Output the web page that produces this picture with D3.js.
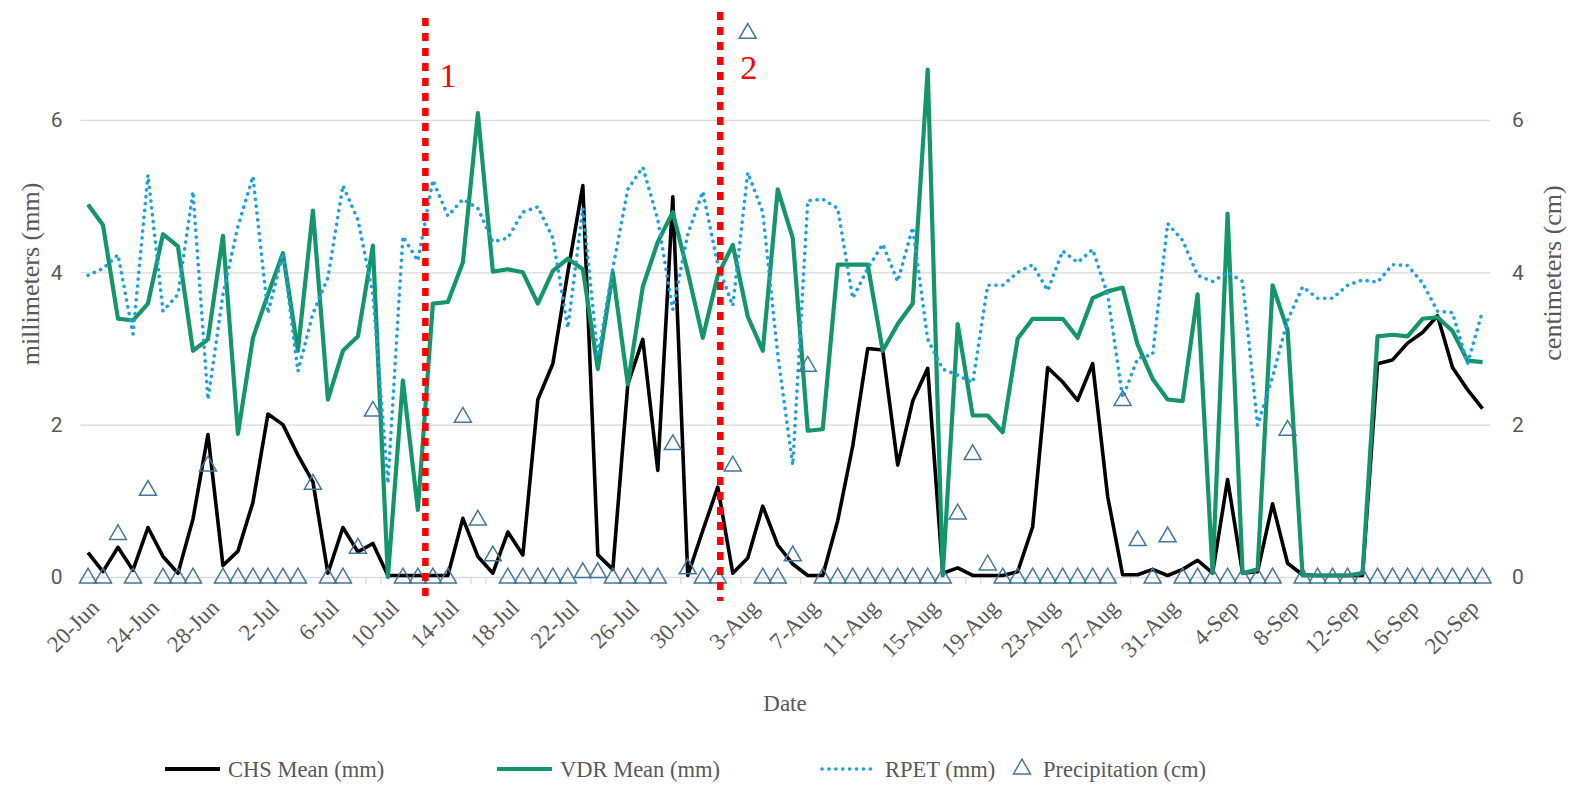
<!DOCTYPE html>
<html>
<head>
<meta charset="utf-8">
<script src="https://cdn.jsdelivr.net/npm/d3@7/dist/d3.min.js"></script>
<style>
  body { margin: 0; background: #fff; }
  svg { display: block; }
</style>
</head>
<body>
<div class="box"></div>
<script>
// daily values, 20-Jun .. 21-Sep
const chsMean = [
  0.32, 0.07, 0.39, 0.09, 0.65, 0.27, 0.05, 0.76, 1.87, 0.15,
  0.34, 0.98, 2.14, 2.00, 1.60, 1.25, 0.05, 0.65, 0.33, 0.44,
  0.02, 0.02, 0.02, 0.02, 0.02, 0.77, 0.27, 0.05, 0.59, 0.29,
  2.33, 2.80, 4.00, 5.14, 0.29, 0.10, 2.53, 3.12, 1.40, 4.99,
  0.02, 0.61, 1.18, 0.05, 0.25, 0.93, 0.42, 0.17, 0.02, 0.02,
  0.74, 1.72, 3.00, 2.98, 1.47, 2.31, 2.74, 0.05, 0.12, 0.02,
  0.02, 0.02, 0.07, 0.66, 2.75, 2.56, 2.32, 2.80, 1.06, 0.03,
  0.03, 0.10, 0.02, 0.10, 0.22, 0.05, 1.28, 0.05, 0.07, 0.96,
  0.18, 0.03, 0.02, 0.02, 0.02, 0.02, 2.80, 2.85, 3.07, 3.21,
  3.43, 2.75, 2.46, 2.21
]
const vdrMean = [
  4.89, 4.62, 3.39, 3.37, 3.59, 4.50, 4.34, 2.97, 3.12, 4.48,
  1.88, 3.14, 3.71, 4.25, 2.97, 4.81, 2.33, 2.97, 3.16, 4.35,
  0.00, 2.58, 0.88, 3.59, 3.61, 4.13, 6.09, 4.01, 4.04, 4.00,
  3.59, 4.02, 4.18, 4.04, 2.73, 4.00, 2.53, 3.81, 4.40, 4.79,
  4.00, 3.14, 3.96, 4.36, 3.42, 2.97, 5.09, 4.45, 1.92, 1.94,
  4.10, 4.10, 4.10, 2.97, 3.32, 3.59, 6.66, 0.02, 3.32, 2.12,
  2.12, 1.90, 3.13, 3.39, 3.39, 3.39, 3.14, 3.66, 3.75, 3.80,
  3.05, 2.60, 2.33, 2.31, 3.71, 0.05, 4.77, 0.05, 0.10, 3.83,
  3.24, 0.02, 0.02, 0.02, 0.02, 0.05, 3.16, 3.18, 3.16, 3.39,
  3.41, 3.23, 2.84, 2.82
]
const rpet = [
  3.96, 4.05, 4.23, 3.19, 5.28, 3.49, 3.71, 5.06, 2.33, 3.71,
  4.60, 5.26, 3.46, 4.25, 2.70, 3.46, 3.93, 5.14, 4.69, 3.71,
  1.23, 4.47, 4.15, 5.21, 4.74, 4.96, 4.84, 4.40, 4.45, 4.79,
  4.86, 4.45, 3.27, 4.84, 2.90, 4.05, 5.09, 5.38, 4.69, 3.51,
  4.50, 5.06, 4.10, 3.56, 5.31, 4.79, 2.92, 1.47, 4.94, 4.96,
  4.84, 3.66, 4.05, 4.37, 3.88, 4.59, 3.12, 2.73, 2.65, 2.55,
  3.83, 3.83, 4.00, 4.10, 3.76, 4.28, 4.13, 4.30, 3.71, 2.35,
  2.87, 2.92, 4.64, 4.42, 3.96, 3.88, 4.00, 3.88, 1.99, 2.63,
  3.37, 3.81, 3.66, 3.66, 3.83, 3.90, 3.87, 4.10, 4.09, 3.86,
  3.49, 3.47, 2.80, 3.49
]
const precipitation = [
  0, 0, 0.57, 0, 1.15, 0, 0, 0, 1.47, 0,
  0, 0, 0, 0, 0, 1.23, 0, 0, 0.39, 2.19,
  null, 0, 0, 0, 0, 2.11, 0.76, 0.29, 0, 0,
  0, 0, 0, 0.07, 0.07, 0, 0, 0, 0, 1.75,
  0.12, 0, 0, 1.47, 7.15, 0, 0, 0.29, 2.78, 0,
  0, 0, 0, 0, 0, 0, 0, 0, 0.84, 1.62,
  0.17, 0, 0, 0, 0, 0, 0, 0, 0, 2.33,
  0.49, 0, 0.54, 0, 0, 0, 0, 0, 0, 0,
  1.94, 0, 0, 0, 0, 0, 0, 0, 0, 0,
  0, 0, 0, 0
]
const tickLabels = ["20-Jun", "24-Jun", "28-Jun", "2-Jul", "6-Jul", "10-Jul", "14-Jul", "18-Jul",
  "22-Jul", "26-Jul", "30-Jul", "3-Aug", "7-Aug", "11-Aug", "15-Aug", "19-Aug", "23-Aug",
  "27-Aug", "31-Aug", "4-Sep", "8-Sep", "12-Sep", "16-Sep", "20-Sep"]
const yTicks = [0, 2, 4, 6]
const eventLabels = ["1", "2"]
const eventDates = ["2019-07-12 12:00", "2019-08-01 04:00"]

const width = 1573
const height = 787
const plotLeft = 80.5, plotRight = 1490, plotTop = 0, plotBottom = 577

const days = d3.timeDay.range(new Date(2019, 5, 20), new Date(2019, 8, 22))
const parseTick = d3.timeParse("%d-%b-%Y")
const parseEvent = d3.timeParse("%Y-%m-%d %H:%M")

const x = d3.scaleTime()
  .domain([d3.timeHour.offset(days[0], -12), d3.timeHour.offset(days[days.length - 1], 12)])
  .range([plotLeft, plotRight])
const y = d3.scaleLinear().domain([0, 7.575]).range([plotBottom, plotTop])

const svg = d3.select('.box').append('svg')
  .attr('width', width)
  .attr('height', height)

// gridlines
svg.append('g')
  .attr('transform', `translate(${plotLeft},0)`)
  .call(d3.axisLeft(y).tickValues(yTicks).tickSize(-(plotRight - plotLeft)).tickFormat(''))
  .call(g => g.select('.domain').remove())
  .selectAll('line').attr('stroke', '#d9d9d9').attr('stroke-width', 1.3)

// left & right tick labels
const tickFont = 'Roboto, "Liberation Sans", sans-serif'
svg.append('g')
  .attr('transform', `translate(${plotLeft},0)`)
  .call(d3.axisLeft(y).tickValues(yTicks).tickSize(0).tickPadding(18))
  .call(g => g.select('.domain').remove())
  .selectAll('text').attr('font-family', tickFont).attr('font-size', 21).attr('fill', '#595959')
svg.append('g')
  .attr('transform', `translate(${plotRight},0)`)
  .call(d3.axisRight(y).tickValues(yTicks).tickSize(0).tickPadding(22))
  .call(g => g.select('.domain').remove())
  .selectAll('text').attr('font-family', tickFont).attr('font-size', 21).attr('fill', '#595959')

// small day tick marks
const boundaries = days.map(d => d3.timeHour.offset(d, -12))
svg.append('g')
  .attr('transform', `translate(0,${plotBottom})`)
  .call(d3.axisBottom(x).tickValues(boundaries).tickSize(7).tickFormat(''))
  .call(g => g.select('.domain').remove())
  .selectAll('line').attr('stroke', '#d9d9d9').attr('stroke-width', 1.3)

// date labels
const serif = '"Liberation Serif", "Times New Roman", serif'
const tickDates = tickLabels.map(t => parseTick(t + '-2019'))
svg.append('g')
  .attr('transform', `translate(0,${plotBottom})`)
  .call(d3.axisBottom(x).tickValues(tickDates).tickSize(0).tickFormat((d, i) => tickLabels[i]))
  .call(g => g.select('.domain').remove())
  .selectAll('text')
  .attr('font-family', serif).attr('font-size', 23).attr('fill', '#595959')
  .attr('text-anchor', 'end')
  .attr('dy', 0)
  .attr('transform', 'translate(10,30) rotate(-45)')

// axis titles
svg.append('text')
  .attr('transform', `translate(39,274) rotate(-90)`)
  .attr('text-anchor', 'middle')
  .attr('font-family', serif).attr('font-size', 26).attr('fill', '#595959')
  .text('millimeters (mm)')
svg.append('text')
  .attr('transform', `translate(1561,273) rotate(-90)`)
  .attr('text-anchor', 'middle')
  .attr('font-family', serif).attr('font-size', 26).attr('fill', '#595959')
  .text('centimeters (cm)')
svg.append('text')
  .attr('x', 785).attr('y', 711)
  .attr('text-anchor', 'middle')
  .attr('font-family', serif).attr('font-size', 23).attr('fill', '#595959')
  .text('Date')

// lines
const line = vals => d3.line()
  .defined(d => d != null)
  .x((d, i) => x(days[i]))
  .y(d => y(d))(vals)

svg.append('path').attr('d', line(chsMean))
  .attr('fill', 'none').attr('stroke', '#000').attr('stroke-width', 3.6)
  .attr('stroke-linejoin', 'round')
svg.append('path').attr('d', line(vdrMean))
  .attr('fill', 'none').attr('stroke', '#14966a').attr('stroke-width', 4.2)
  .attr('stroke-linejoin', 'round')
svg.append('path').attr('d', line(rpet))
  .attr('fill', 'none').attr('stroke', '#1ba1e2').attr('stroke-width', 3.6)
  .attr('stroke-dasharray', '0.1 6.8').attr('stroke-linecap', 'round')

// precipitation markers
const tri = d3.symbol(d3.symbolTriangle, 125)
svg.append('g').selectAll('path')
  .data(precipitation.map((v, i) => ({ v, d: days[i] })).filter(p => p.v != null))
  .enter().append('path')
  .attr('d', tri)
  .attr('transform', p => `translate(${x(p.d)},${y(p.v) + 1})`)
  .attr('fill', 'none')
  .attr('stroke', '#41789b')
  .attr('stroke-width', 1.5)

// event lines
const events = eventLabels.map((l, i) => ({ label: l, date: parseEvent(eventDates[i]) }))
svg.append('g').selectAll('line')
  .data(events).enter().append('line')
  .attr('x1', e => x(e.date)).attr('x2', e => x(e.date))
  .attr('y1', (e, i) => i === 0 ? 18 : 12).attr('y2', 601)
  .attr('stroke', '#ff0000').attr('stroke-width', 6.5)
  .attr('stroke-dasharray', '8 7')
svg.append('g').selectAll('text')
  .data(events).enter().append('text')
  .attr('x', (e, i) => x(e.date) + (i === 0 ? 14 : 20)).attr('y', (e, i) => i === 0 ? 87 : 79)
  .attr('font-family', serif).attr('font-size', 34).attr('fill', '#ff0000')
  .text(e => e.label)

// legend
const legendY = 769
const legend = [
  { name: 'CHS Mean (mm)', x: 165, type: 'line', color: '#000' },
  { name: 'VDR Mean (mm)', x: 497, type: 'line', color: '#14966a' },
  { name: 'RPET (mm)', x: 822, type: 'dot', color: '#1ba1e2' },
  { name: 'Precipitation (cm)', x: 1005, type: 'tri', color: '#41789b' }
]
const lg = svg.append('g')
legend.forEach(item => {
  if (item.type === 'tri') {
    lg.append('path').attr('d', tri)
      .attr('transform', `translate(${item.x + 17},${legendY})`)
      .attr('fill', 'none').attr('stroke', item.color).attr('stroke-width', 1.5)
    lg.append('text').attr('x', item.x + 38).attr('y', legendY + 8)
      .attr('font-family', serif).attr('font-size', 22.5).attr('fill', '#595959').text(item.name)
  } else {
    lg.append('line')
      .attr('x1', item.x).attr('x2', item.x + 55)
      .attr('y1', legendY).attr('y2', legendY)
      .attr('stroke', item.color)
      .attr('stroke-width', item.type === 'dot' ? 3.6 : 4.2)
      .attr('stroke-dasharray', item.type === 'dot' ? '0.1 6.8' : null)
      .attr('stroke-linecap', item.type === 'dot' ? 'round' : 'butt')
    lg.append('text').attr('x', item.x + 63).attr('y', legendY + 8)
      .attr('font-family', serif).attr('font-size', 22.5).attr('fill', '#595959').text(item.name)
  }
})
</script>
</body>
</html>
